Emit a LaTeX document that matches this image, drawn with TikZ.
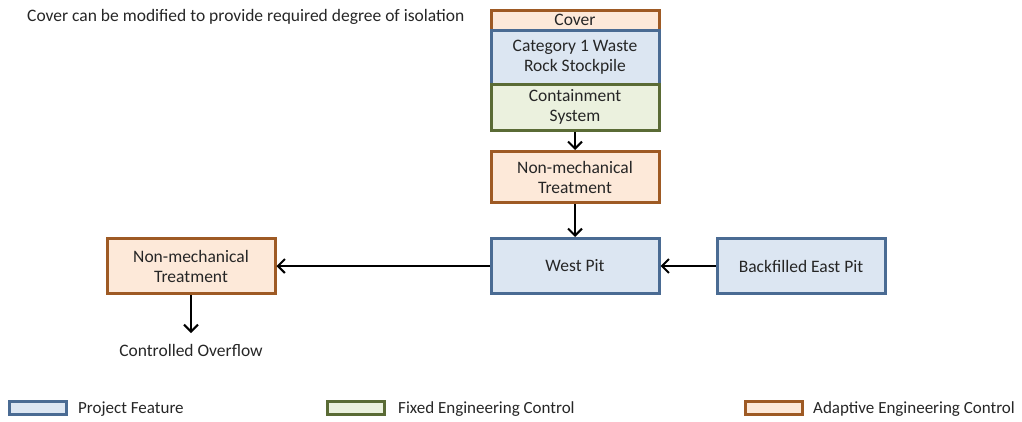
\documentclass[tikz,border=0pt]{standalone}
\usepackage{fontspec}
\setmainfont{Carlito}
\usetikzlibrary{arrows.meta}
\definecolor{pfb}{HTML}{4A6B93}
\definecolor{pff}{HTML}{DCE6F2}
\definecolor{fcb}{HTML}{5A6B35}
\definecolor{fcf}{HTML}{EBF1DE}
\definecolor{acb}{HTML}{9E5A24}
\definecolor{acf}{HTML}{FDE9D9}
\definecolor{txt}{HTML}{262626}
\tikzset{
  base/.style={draw, line width=3pt, minimum width=168pt, align=center, text=txt,
    font=\fontsize{17.5}{20}\selectfont, inner sep=0pt},
  proj/.style={base, draw=pfb, fill=pff},
  fixed/.style={base, draw=fcb, fill=fcf},
  adapt/.style={base, draw=acb, fill=acf},
  lab/.style={text=txt, font=\fontsize{17.5}{20}\selectfont, inner sep=0pt},
  leglab/.style={text=txt, font=\fontsize{17}{20}\selectfont, inner sep=0pt},
  arr/.style={line width=2pt, -{Straight Barb[length=7pt,width=14pt,line width=2pt]}},
  legbox/.style={draw, line width=3pt, minimum width=57pt, minimum height=13pt, inner sep=0pt}
}
\begin{document}
\begin{tikzpicture}[x=1pt,y=-1pt]
\useasboundingbox (0,0) rectangle (1022,421);
\node[lab, anchor=west] (note) at (27,17) {Cover can be modified to provide required degree of isolation};
\node[adapt, minimum height=20pt] (cover) at (575,20) {Cover};
\node[proj, minimum height=54pt] (stock) at (575,57) {Category 1 Waste\\Rock Stockpile};
\node[fixed, minimum height=46pt] (contain) at (575,107) {Containment\\System};
\node[adapt, minimum height=51pt] (nmt1) at (575,177) {Non-mechanical\\Treatment};
\node[proj, minimum height=55pt] (west) at (575,266) {West Pit};
\node[proj, minimum height=55pt] (east) at (801,266) {Backfilled East Pit};
\node[adapt, minimum height=55pt] (nmt2) at (191,266) {Non-mechanical\\Treatment};
\coordinate (ovtop) at (191,333);
\node[lab] (overflow) at (191,350) {Controlled Overflow};
\draw[arr] (contain.south) -- (nmt1.north);
\draw[arr] (nmt1.south) -- (west.north);
\draw[arr] (east.west) -- (west.east);
\draw[arr] (west.west) -- (nmt2.east);
\draw[arr] (nmt2.south) -- (ovtop);
% legend
\node[legbox, draw=pfb, fill=pff] (lg1) at (38,408) {};
\node[leglab, anchor=west] (lt1) at (78,409) {Project Feature};
\node[legbox, draw=fcb, fill=fcf] (lg2) at (356,408) {};
\node[leglab, anchor=west] (lt2) at (398,409) {Fixed Engineering Control};
\node[legbox, draw=acb, fill=acf] (lg3) at (774,408) {};
\node[leglab, anchor=west] (lt3) at (813,409) {Adaptive Engineering Control};
\end{tikzpicture}
\end{document}
